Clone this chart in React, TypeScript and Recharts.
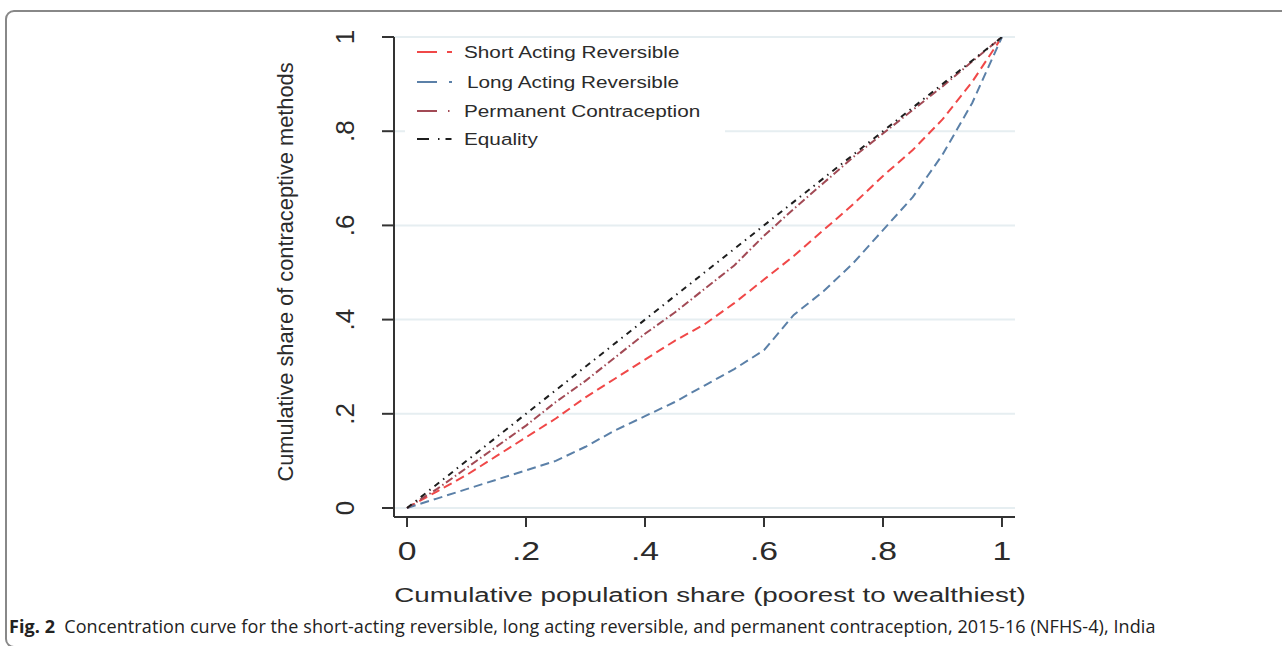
import React from 'react';
import { LineChart, Line, XAxis, YAxis, CartesianGrid } from 'recharts';

// Concentration curves, NFHS-4 (2015-16)
const popShare = [0, 0.05, 0.1, 0.15, 0.2, 0.25, 0.3, 0.35, 0.4, 0.45, 0.5, 0.55, 0.6, 0.65, 0.7, 0.75, 0.8, 0.85, 0.9, 0.95, 1];
const shortActing = [0, 0.035, 0.07, 0.11, 0.15, 0.19, 0.235, 0.275, 0.315, 0.355, 0.39, 0.435, 0.485, 0.535, 0.59, 0.645, 0.705, 0.76, 0.825, 0.905, 1];
const longActing = [0, 0.02, 0.04, 0.06, 0.08, 0.1, 0.13, 0.165, 0.195, 0.225, 0.26, 0.295, 0.335, 0.41, 0.46, 0.52, 0.59, 0.66, 0.75, 0.86, 1];
const permanent = [0, 0.04, 0.085, 0.13, 0.175, 0.225, 0.27, 0.32, 0.37, 0.415, 0.465, 0.515, 0.578, 0.635, 0.69, 0.745, 0.795, 0.845, 0.895, 0.948, 1];
const equalityX = [0, 1];
const equalityY = [0, 1];

const xTicks = [0, 0.2, 0.4, 0.6, 0.8, 1];
const yTicks = [0, 0.2, 0.4, 0.6, 0.8, 1];

const curveData = popShare.map((x, i) => ({
  x,
  short: shortActing[i],
  long: longActing[i],
  permanent: permanent[i],
}));
const equalityData = equalityX.map((x, i) => ({ x, equality: equalityY[i] }));

// legend order and line styles
const series = [
  { key: 'short', name: 'Short Acting Reversible', color: '#f04848', dash: '9 5', sample: '20 10 5 40' },
  { key: 'long', name: 'Long Acting Reversible', color: '#5b80a8', dash: '9 5', sample: '20 12 3 40' },
  { key: 'permanent', name: 'Permanent Contraception', color: '#a24a55', dash: '8 3 1.5 3', sample: '20 11 1.5 40' },
  { key: 'equality', name: 'Equality', color: '#1e1e1e', dash: '6 5 1.5 5', sample: '12 9 1.5 6 6 40' },
];

// Stata-style tick text: ".2" instead of "0.2"
const fmt = (v: number) => (v === 0 || v === 1 ? String(v) : String(v).replace(/^0/, ''));

const AXIS_FONT = '"Liberation Sans", Arial, sans-serif';
const TEXT = '#2b2b2b';

const YTick = (props: any) => {
  const { x, y, payload } = props;
  const bx = x - 26;
  return (
    <text x={bx} y={y} transform={`rotate(-90 ${bx} ${y})`} textAnchor="middle" fontSize={26} fill={TEXT} fontFamily={AXIS_FONT}>
      {fmt(payload.value)}
    </text>
  );
};

const XTick = (props: any) => {
  const { x, y, payload } = props;
  return (
    <g transform={`translate(${x},${y + 31}) scale(1.35,1)`}>
      <text x={0} y={0} textAnchor="middle" fontSize={25} fill={TEXT} fontFamily={AXIS_FONT}>
        {fmt(payload.value)}
      </text>
    </g>
  );
};

const LegendOverlay = () => (
  <svg width={1282} height={646} style={{ position: 'absolute', left: 0, top: 0, pointerEvents: 'none' }}>
    <rect x={405} y={40} width={320} height={118} fill="#fff" />
    {series.map((s, i) => {
      const cy = [52, 82, 111, 139][i];
      return (
        <g key={s.key}>
          <line x1={417} y1={cy} x2={454} y2={cy} stroke={s.color} strokeWidth={2} strokeDasharray={s.sample} />
          <g transform={`translate(${i === 1 ? 467 : 464},${cy + 6}) scale(1.22,1)`}>
            <text x={0} y={0} fontSize={17} fill={TEXT} fontFamily={AXIS_FONT}>
              {s.name}
            </text>
          </g>
        </g>
      );
    })}
  </svg>
);

export default function App() {
  return (
    <div style={{ position: 'absolute', left: 0, top: 0, width: 1282, height: 646, overflow: 'hidden', background: '#fff' }}>
      <div
        style={{
          position: 'absolute',
          left: 5,
          top: 10,
          width: 1320,
          height: 634,
          border: '2px solid #888',
          borderRadius: 9,
        }}
      />
      <div style={{ position: 'absolute', left: 0, top: 0 }}>
        <LineChart width={1282} height={646} margin={{ top: 37, right: 267, bottom: 69, left: 334 }}>
          <CartesianGrid vertical={false} stroke="#e6eef1" strokeWidth={2} />
          <XAxis
            type="number"
            dataKey="x"
            domain={[-0.0219, 1.0219]}
            ticks={xTicks}
            allowDataOverflow
            height={60}
            tickSize={10}
            axisLine={{ stroke: '#333', strokeWidth: 2 }}
            tickLine={{ stroke: '#333', strokeWidth: 2 }}
            tick={<XTick />}
            label={{
              content: () => (
                <g transform="translate(710,602) scale(1.32,1)">
                  <text x={0} y={0} textAnchor="middle" fontSize={21} fill={TEXT} fontFamily={AXIS_FONT}>
                    Cumulative population share (poorest to wealthiest)
                  </text>
                </g>
              ),
            }}
          />
          <YAxis
            type="number"
            domain={[-0.0191, 1]}
            ticks={yTicks}
            allowDataOverflow
            width={60}
            tickSize={12}
            axisLine={{ stroke: '#333', strokeWidth: 2 }}
            tickLine={{ stroke: '#333', strokeWidth: 2 }}
            tick={<YTick />}
            label={{
              content: () => (
                <text x={293} y={272} transform="rotate(-90 293 272)" textAnchor="middle" fontSize={21.8} fill={TEXT} fontFamily={AXIS_FONT}>
                  Cumulative share of contraceptive methods
                </text>
              ),
            }}
          />
          {series.map((s) => (
            <Line
              key={s.key}
              data={s.key === 'equality' ? equalityData : curveData}
              dataKey={s.key}
              name={s.name}
              type="linear"
              stroke={s.color}
              strokeWidth={2}
              strokeDasharray={s.dash}
              dot={false}
              isAnimationActive={false}
            />
          ))}
        </LineChart>
      </div>
      <LegendOverlay />
      <div
        style={{
          position: 'absolute',
          left: 9,
          top: 617,
          lineHeight: '18px',
          fontFamily: '"Open Sans", sans-serif',
          fontSize: 18,
          letterSpacing: 0.1,
          color: '#222',
          whiteSpace: 'nowrap',
        }}
      >
        <b style={{ fontWeight: 700 }}>Fig. 2</b>
        <span style={{ marginLeft: 9 }}>
          Concentration curve for the short-acting reversible, long acting reversible, and permanent contraception, 2015-16 (NFHS-4), India
        </span>
      </div>
    </div>
  );
}
